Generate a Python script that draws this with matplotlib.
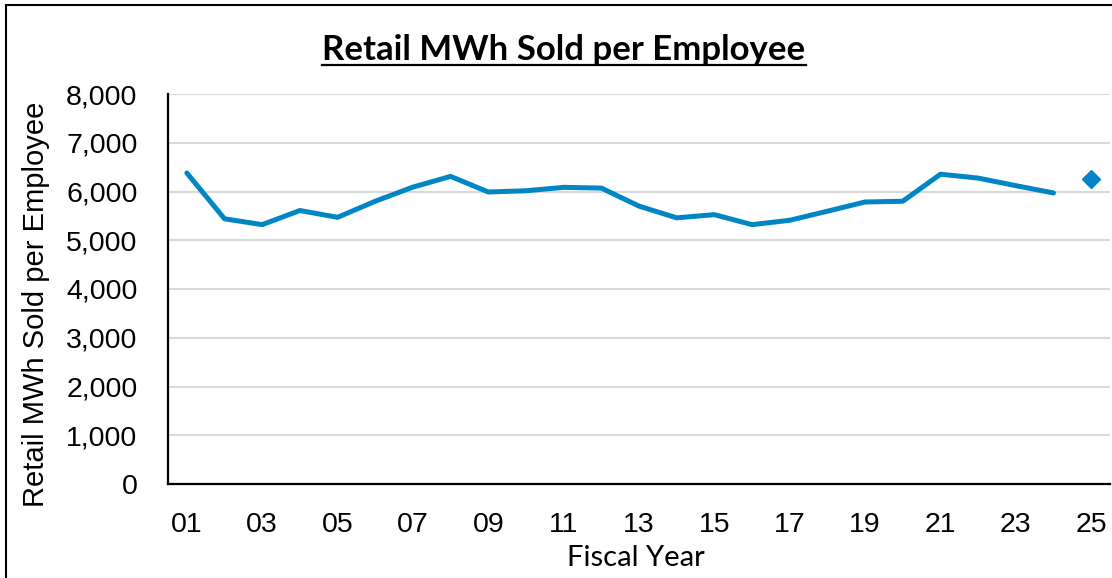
import matplotlib
matplotlib.use("Agg")
import matplotlib.pyplot as plt
from matplotlib.lines import Line2D

# data
years = list(range(1, 25))
mwh_per_emp = [6380, 5440, 5320, 5610, 5470, 5800, 6090, 6310, 5990, 6015,
               6085, 6070, 5700, 5460, 5525, 5320, 5410, 5595, 5785, 5800,
               6355, 6275, 6120, 5970]
proj_year = [25]
proj_value = [6255]
tick_years = list(range(1, 26, 2))
tick_labels = ["%02d" % y for y in tick_years]
y_ticks = list(range(0, 8001, 1000))

blue = "#0086c4"
font = "Liberation Sans"

fig = plt.figure(figsize=(11.12, 5.78), dpi=100)
ax = fig.add_axes([168 / 1112, 1 - 484 / 578, (1110 - 168) / 1112, (484 - 94) / 578])

ax.plot(years, mwh_per_emp, color=blue, lw=3.6, solid_capstyle="round", solid_joinstyle="round")
ax.plot(proj_year, proj_value, ls="none", marker="D", ms=9, color=blue)

ax.set_xlim(0.5, 25.5)
ax.set_ylim(0, 8000)
ax.set_yticks(y_ticks)
ax.set_yticklabels(["{:,}".format(v) for v in y_ticks], fontname=font, fontsize=20.5)
ax.set_xticks(tick_years)
ax.set_xticklabels(tick_labels, fontname=font, fontsize=20.5)
ax.tick_params(length=0)
ax.tick_params(axis="y", pad=22)
ax.tick_params(axis="x", pad=20)
ax.grid(axis="y", color="#d9d9d9", lw=1.5)
ax.set_axisbelow(True)
for s in ["top", "right"]:
    ax.spines[s].set_visible(False)
ax.spines["left"].set_linewidth(1.6)
ax.spines["bottom"].set_linewidth(1.6)

ax.set_ylabel("Retail MWh Sold per Employee", fontname=font, fontsize=21)
ax.yaxis.set_label_coords((50 - 168) / 942, 0.46)

fig.text(636 / 1112, 1 - 558 / 578, "Fiscal Year", ha="center", va="center",
         fontname="Lato", fontsize=21)

title = fig.text(564 / 1112, 1 - 60 / 578, "Retail MWh Sold per Employee",
                 ha="center", va="baseline", fontname="Lato", fontweight="bold", fontsize=25)

# underline under the title
fig.canvas.draw()
bb = title.get_window_extent()
uy = 1 - 65 / 578
fig.add_artist(Line2D([bb.x0 / 1112, bb.x1 / 1112], [uy, uy], color="black", lw=1.6))

# chart border (left and top visible)
fig.add_artist(Line2D([6 / 1112, 6 / 1112], [0, 1 - 5 / 578], color="black", lw=1.5))
fig.add_artist(Line2D([6 / 1112, 1], [1 - 5 / 578, 1 - 5 / 578], color="black", lw=1.5))

fig.savefig("out.png", dpi=100)
